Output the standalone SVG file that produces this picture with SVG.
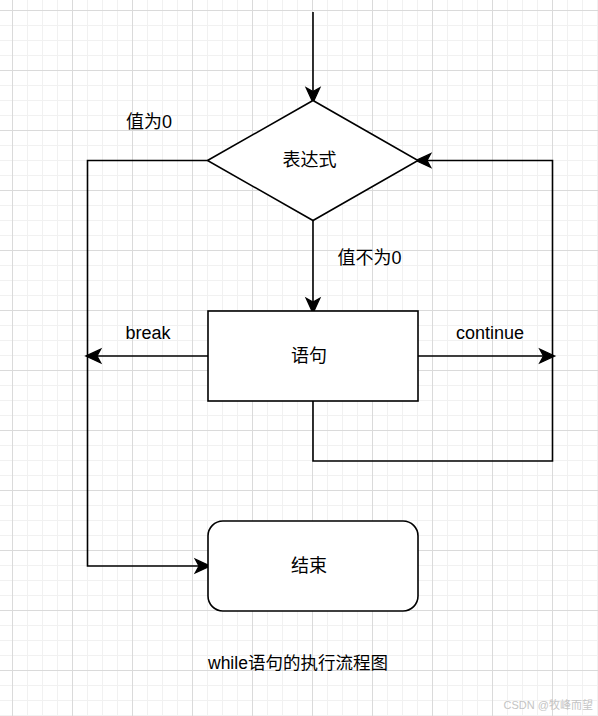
<svg xmlns="http://www.w3.org/2000/svg" width="598" height="716" viewBox="0 0 598 716">
  <style>
    .shape { fill: #ffffff; stroke: #000000; stroke-width: 1.6; }
    .conn { fill: none; stroke: #000000; stroke-width: 1.6; }
    .lbl { font-family: "Liberation Sans", "Noto Sans CJK SC", sans-serif; font-size: 18px; fill: #000000; }
    .cap { font-family: "Liberation Sans", "Noto Sans CJK SC", sans-serif; font-size: 17.5px; fill: #000000; }
    .wm { font-family: "Liberation Sans", "Noto Sans CJK SC", sans-serif; font-size: 11px; fill: #c4c4c4; }
  </style>
  <defs>
    <pattern id="grid" patternUnits="userSpaceOnUse" x="12" y="10" width="60" height="60">
      <path d="M15.5,0 V60 M30.5,0 V60 M45.5,0 V60 M0,15.5 H60 M0,30.5 H60 M0,45.5 H60" stroke="#f1f1f1" stroke-width="1" fill="none"/>
      <path d="M0.5,0 V60 M0,0.5 H60" stroke="#dadada" stroke-width="1" fill="none"/>
    </pattern>
    <marker id="arr" markerUnits="userSpaceOnUse" markerWidth="20" markerHeight="20" viewBox="-5 -8 16 16" refX="0" refY="0" orient="auto" overflow="visible">
      <path d="M9,0 L-3,-5.5 L0,0 L-3,5.5 Z" fill="#000000" stroke="#000000" stroke-width="1" stroke-linejoin="miter"/>
    </marker>
  </defs>
  <rect x="0" y="0" width="598" height="716" fill="#ffffff"/>
  <rect x="0" y="0" width="598" height="716" fill="url(#grid)"/>

  <g id="connectors">
    <path class="conn" d="M313,12 V91.5" marker-end="url(#arr)"/>
    <path class="conn" d="M313,220.5 V302" marker-end="url(#arr)"/>
    <path class="conn" d="M208,356 H97" marker-end="url(#arr)"/>
    <path class="conn" d="M418,356 H543.5" marker-end="url(#arr)"/>
    <path class="conn" d="M313,401 V461 H552.5 V160.5 H427" marker-end="url(#arr)"/>
    <path class="conn" d="M207.5,160.5 H87.5 V566 H199" marker-end="url(#arr)"/>
    <text class="lbl" x="126" y="128.3">值为0</text>
    <text class="lbl" x="337.5" y="264.3">值不为0</text>
    <text class="lbl" x="125.5" y="339">break</text>
    <text class="lbl" x="456" y="339">continue</text>
  </g>

  <g id="expr">
    <polygon class="shape" points="207.5,160.5 313,100.5 418,160.5 313,220.5"/>
    <text class="lbl" x="309.5" y="165.8" text-anchor="middle">表达式</text>
  </g>

  <g id="stmt">
    <rect class="shape" x="208" y="311" width="210" height="90"/>
    <text class="lbl" x="309" y="361.5" text-anchor="middle">语句</text>
  </g>

  <g id="end">
    <rect class="shape" x="208" y="521" width="210" height="90" rx="15" ry="15"/>
    <text class="lbl" x="309" y="571.5" text-anchor="middle">结束</text>
  </g>

  <text class="cap" x="208" y="668.8">while语句的执行流程图</text>
  <text class="wm" x="593" y="709" text-anchor="end">CSDN @牧峰而望</text>
</svg>
